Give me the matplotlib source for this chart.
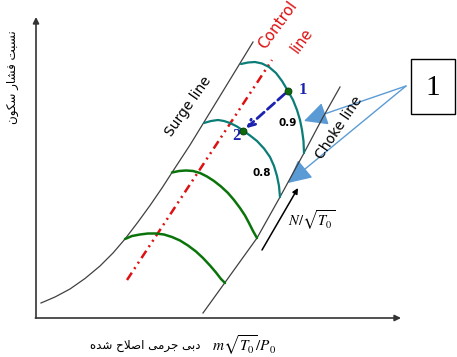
import matplotlib
matplotlib.use('Agg')
import matplotlib.pyplot as plt
from matplotlib.patches import FancyArrowPatch, Rectangle

plt.rcParams['mathtext.fontset'] = 'stix'

# schematic compressor map, coordinates (pixels, y down)
surge_x = [41, 55, 70, 85, 100, 113, 125, 138, 150, 162, 172, 190, 220, 253]
surge_y = [303, 297, 289, 278.5, 266, 253, 239, 222, 205.5, 188, 172.5, 145, 96, 42]

choke_x = [203, 225, 257, 280, 304, 322, 340]
choke_y = [313, 282.5, 238, 197, 153, 119, 87]

control_x = [127, 272]
control_y = [280, 60]

# speed lines
n09_x = [241, 248, 255, 262, 269, 276, 282, 288, 293, 297, 300, 302, 303.5, 304]
n09_y = [64, 62.5, 62, 63.5, 67, 73, 81, 91, 100, 110, 120, 130, 141, 153]
n08_x = [204, 211, 218, 224, 230, 237, 243, 250, 257, 264, 270, 274, 277, 279, 280]
n08_y = [123, 121, 120, 121, 123, 126.5, 130.5, 135.5, 141, 148.5, 157, 166, 176, 186, 197]
n07_x = [172, 179, 186, 193, 200, 207, 214, 221, 228, 234, 240, 245, 249, 253, 257]
n07_y = [172.5, 171, 170.5, 171, 173, 176.5, 181, 186.5, 193, 200, 208, 215.5, 223, 231, 238]
n06_x = [125, 132, 140, 148, 156, 164, 172, 180, 188, 196, 203, 210, 216, 221, 225]
n06_y = [239, 236, 234.5, 233.5, 233.5, 234.5, 237, 240.5, 245.5, 251.5, 258, 265.5, 272.5, 279, 283]

op_x = [288, 243]
op_y = [91, 131]
op_labels = ['1', '2']

speed_labels = ['0.9', '0.8']
speed_label_x = [288, 262]
speed_label_y = [123, 173]

callout_start = (406, 86)
callout_ends_x = [304, 288]
callout_ends_y = [121, 183]

xlabel_fa = 'دبی جرمی اصلاح شده'
ylabel_fa = 'نسبت فشار سکون'


def shape(text):
    # very small arabic/persian shaper: contextual forms + visual order
    forms = {
        'ا': ('\uFE8D', '\uFE8E'),
        'ب': ('\uFE8F', '\uFE90', '\uFE91', '\uFE92'),
        'ت': ('\uFE95', '\uFE96', '\uFE97', '\uFE98'),
        'ج': ('\uFE9D', '\uFE9E', '\uFE9F', '\uFEA0'),
        'ح': ('\uFEA1', '\uFEA2', '\uFEA3', '\uFEA4'),
        'د': ('\uFEA9', '\uFEAA'),
        'ر': ('\uFEAD', '\uFEAE'),
        'س': ('\uFEB1', '\uFEB2', '\uFEB3', '\uFEB4'),
        'ش': ('\uFEB5', '\uFEB6', '\uFEB7', '\uFEB8'),
        'ص': ('\uFEB9', '\uFEBA', '\uFEBB', '\uFEBC'),
        'ف': ('\uFED1', '\uFED2', '\uFED3', '\uFED4'),
        'ل': ('\uFEDD', '\uFEDE', '\uFEDF', '\uFEE0'),
        'م': ('\uFEE1', '\uFEE2', '\uFEE3', '\uFEE4'),
        'ن': ('\uFEE5', '\uFEE6', '\uFEE7', '\uFEE8'),
        'ه': ('\uFEE9', '\uFEEA', '\uFEEB', '\uFEEC'),
        'و': ('\uFEED', '\uFEEE'),
        'ی': ('\uFBFC', '\uFBFD', '\uFBFE', '\uFBFF'),
        'ک': ('\uFB8E', '\uFB8F', '\uFB90', '\uFB91'),
        '\uFEFB': ('\uFEFB', '\uFEFC'),
    }
    text = text.replace('لا', '\uFEFB')
    out = []
    for i, ch in enumerate(text):
        if ch not in forms:
            out.append(ch)
            continue
        f = forms[ch]
        prev = text[i-1] if i > 0 else ' '
        nxt = text[i+1] if i+1 < len(text) else ' '
        jp = prev in forms and len(forms[prev]) == 4
        jn = nxt in forms and len(f) == 4
        if jp and jn:
            out.append(f[3])
        elif jp:
            out.append(f[1])
        elif jn:
            out.append(f[2])
        else:
            out.append(f[0])
    return ''.join(reversed(out))


fig = plt.figure(figsize=(4.57, 3.57), dpi=100)
ax = fig.add_axes([0, 0, 1, 1])
ax.set_xlim(0, 457)
ax.set_ylim(357, 0)
ax.axis('off')

# axes with arrows
ax.annotate('', xy=(36, 17), xytext=(36, 318),
            arrowprops=dict(arrowstyle='-|>', color='#333333', lw=1.2, mutation_scale=9, shrinkA=0, shrinkB=0))
ax.annotate('', xy=(401, 318), xytext=(35.4, 318),
            arrowprops=dict(arrowstyle='-|>', color='#333333', lw=1.2, mutation_scale=9, shrinkA=0, shrinkB=0))

ax.plot(surge_x, surge_y, color='#404040', lw=0.9)
ax.plot(choke_x, choke_y, color='#404040', lw=0.9)
ax.plot(control_x, control_y, color='#dd1111', lw=1.8, dashes=(3.5, 1.8, 0.8, 1.8, 0.8, 1.8))

teal = '#0b7d78'
green = '#0a740a'
ax.plot(n09_x, n09_y, color=teal, lw=1.6, solid_capstyle='round', solid_joinstyle='round')
ax.plot(n08_x, n08_y, color=teal, lw=1.6, solid_capstyle='round', solid_joinstyle='round')
ax.plot(n07_x, n07_y, color=green, lw=1.8, solid_capstyle='round', solid_joinstyle='round')
ax.plot(n06_x, n06_y, color=green, lw=1.8, solid_capstyle='round', solid_joinstyle='round')

# operating point move 1 -> 2
ax.add_patch(FancyArrowPatch((op_x[0], op_y[0]), (op_x[1], op_y[1]), arrowstyle='->', mutation_scale=12,
                             color='#1c22b0', lw=2, linestyle=(0, (3.4, 1.6)), shrinkA=3, shrinkB=3))
ax.plot(op_x, op_y, 'o', color='#0d6b0d', markersize=5, markeredgecolor='#063806', markeredgewidth=0.6, zorder=5)
ax.text(op_x[0] + 15, op_y[0] - 1, op_labels[0], color='#1c22b0', fontsize=12, fontweight='bold',
        family='Liberation Serif', ha='center', va='center')
ax.text(op_x[1] - 7, op_y[1] + 5, op_labels[1], color='#1c22b0', fontsize=12, fontweight='bold',
        family='Liberation Serif', ha='center', va='center')

for lab, lx, ly in zip(speed_labels, speed_label_x, speed_label_y):
    ax.text(lx, ly, lab, fontsize=7.5, fontweight='bold', ha='center', va='center')

ax.text(188, 106, 'Surge line', rotation=55, fontsize=10, ha='center', va='center', rotation_mode='anchor')
ax.text(339, 128, 'Choke line', rotation=56, fontsize=10, ha='center', va='center', rotation_mode='anchor')
ax.text(268, 52, 'Control', rotation=54, fontsize=11, color='#dd1111', ha='left', va='bottom',
        rotation_mode='anchor')
ax.text(302, 41, 'line', rotation=54, fontsize=10.5, color='#dd1111', ha='center', va='center',
        rotation_mode='anchor')

# speed direction arrow
ax.annotate('', xy=(298, 188), xytext=(262, 250),
            arrowprops=dict(arrowstyle='-|>', color='black', lw=1.1, mutation_scale=8, shrinkA=0, shrinkB=0))
ax.text(312, 220, r'$N/\sqrt{T_0}$', fontsize=10.5, ha='center', va='center')

# callout box
ax.add_patch(Rectangle((411, 59), 44, 55, fill=False, edgecolor='black', lw=1))
ax.text(433, 88, '1', fontsize=21, family='Liberation Serif', ha='center', va='center')
for ex, ey in zip(callout_ends_x, callout_ends_y):
    ax.add_patch(FancyArrowPatch(callout_start, (ex, ey), arrowstyle='-|>,head_length=1.2,head_width=0.6',
                                 mutation_scale=12, color='#5b9bd5', lw=1, shrinkA=0, shrinkB=0))

# axis labels
ax.text(145, 346, shape(xlabel_fa), fontsize=8.6, family='DejaVu Sans', ha='center', va='center')
ax.text(212, 345, r'$m\sqrt{T_0}/P_0$', fontsize=11, ha='left', va='center')
ax.text(13, 77, shape(ylabel_fa), fontsize=8.6, family='DejaVu Sans', rotation=90, ha='center', va='center')

fig.savefig('out.png', dpi=100)
